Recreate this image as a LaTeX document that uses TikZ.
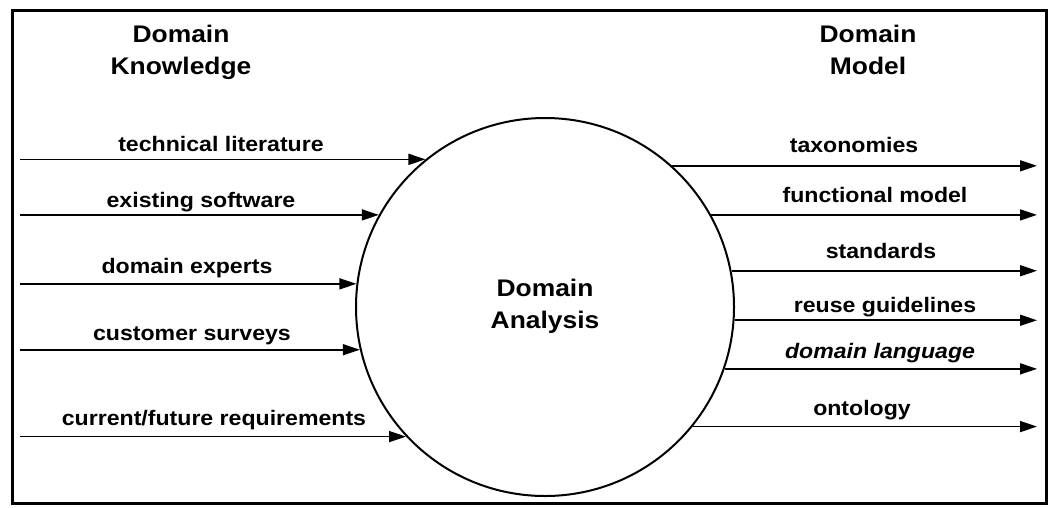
\documentclass[tikz,border=0pt]{standalone}
\usepackage{fontspec}
\setmainfont{Liberation Sans}[FakeStretch=1.1]
\usetikzlibrary{arrows.meta}
\begin{document}
\begin{tikzpicture}[x=1pt,y=-1pt,
  arr/.style={line width=1.6pt,-{Triangle[length=17pt,width=11pt]}},
  lbl/.style={anchor=base,inner sep=0pt,font=\bfseries\fontsize{21}{24}\selectfont},
  head/.style={anchor=base,inner sep=0pt,align=center,font=\bfseries\fontsize{24}{32}\selectfont},
  bigcirc/.style={circle,draw,line width=2pt,minimum size=378pt,inner sep=0pt}]
\useasboundingbox (0,0) rectangle (1051,507);
\draw[line width=3pt] (12,10) rectangle (1046,503);
% headings
\node[head] (dk1) at (181,42) {Domain};
\node[head] (dk2) at (181,74) {Knowledge};
\node[head] (dm1) at (868,42) {Domain};
\node[head] (dm2) at (868,74) {Model};
% circle
\node[bigcirc] (c) at (545,307) {};
\node[head] (ca1) at (545,296) {Domain};
\node[head] (ca2) at (545,328) {Analysis};
\coordinate (L) at (20,0);
\coordinate (R) at (1037,0);
% inputs
\draw[arr] (c.129.9 -| L) -- (c.129.9);
\draw[arr] (c.151.9 -| L) -- (c.151.9);
\draw[arr] (c.173.3 -| L) -- (c.173.3);
\draw[arr] (c.193.8 -| L) -- (c.193.8);
\draw[arr] (c.223.5 -| L) -- (c.223.5);
\node[lbl] (i1) at (221,151) {technical literature};
\node[lbl] (i2) at (201,207) {existing software};
\node[lbl] (i3) at (187,273) {domain experts};
\node[lbl] (i4) at (192,340) {customer surveys};
\node[lbl] (i5) at (214,425) {current/future requirements};
% outputs
\draw[arr] (c.48.7) -- (c.48.7 -| R);
\draw[arr] (c.29.8) -- (c.29.8 -| R);
\draw[arr] (c.11.3) -- (c.11.3 -| R);
\draw[arr] (c.-4.9) -- (c.-4.9 -| R);
\draw[arr] (c.-19.5) -- (c.-19.5 -| R);
\draw[arr] (c.-39.0) -- (c.-39.0 -| R);
\node[lbl] (o1) at (854,152) {taxonomies};
\node[lbl] (o2) at (875,202) {functional model};
\node[lbl] (o3) at (881,258) {standards};
\node[lbl] (o4) at (885,312) {reuse guidelines};
\node[lbl,font=\bfseries\itshape\fontsize{21}{24}\selectfont] (o5) at (880,358) {domain language};
\node[lbl] (o6) at (862,415) {ontology};
\end{tikzpicture}
\end{document}
